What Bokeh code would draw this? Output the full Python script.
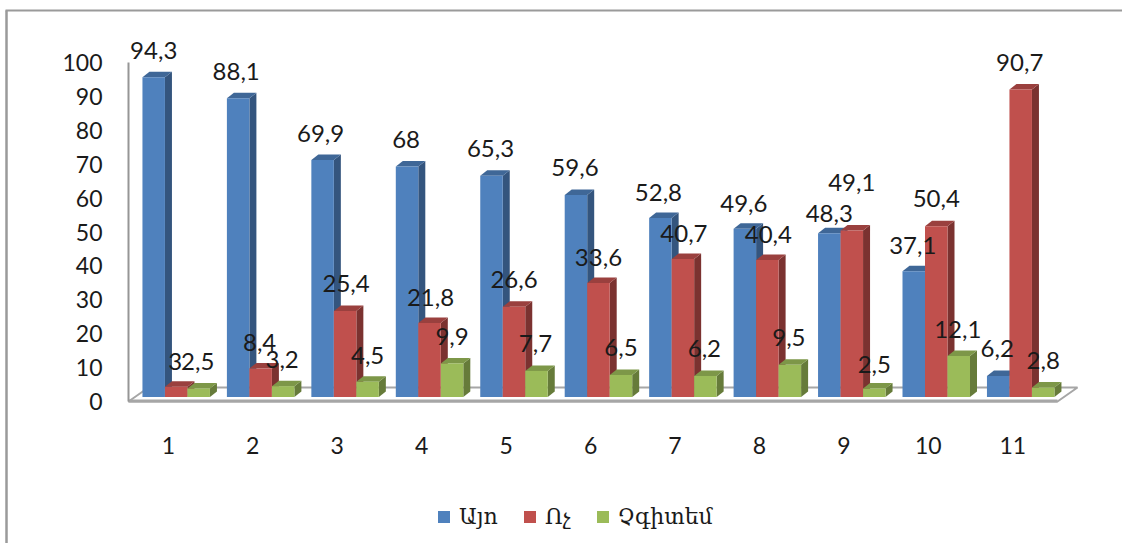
from bokeh.embed import file_html
from bokeh.resources import INLINE
from bokeh.plotting import figure
from bokeh.models import ColumnDataSource, Range1d, LinearAxis, FixedTicker, Legend, LegendItem
from bokeh.core.properties import value

# ---- data
groups = [1, 2, 3, 4, 5, 6, 7, 8, 9, 10, 11]
yes_label = "Այո"
no_label = "Ոչ"
unsure_label = "Չգիտեմ"
yes_values = [94.3, 88.1, 69.9, 68, 65.3, 59.6, 52.8, 49.6, 48.3, 37.1, 6.2]
no_values = [3, 8.4, 25.4, 21.8, 26.6, 33.6, 40.7, 40.4, 49.1, 50.4, 90.7]
unsure_values = [2.5, 3.2, 4.5, 9.9, 7.7, 6.5, 6.2, 9.5, 2.5, 12.1, 2.8]
y_ticks = [0, 10, 20, 30, 40, 50, 60, 70, 80, 90, 100]

# ---- hand-placed label nudges (pixels, relative to the bar's front top centre)
yes_dx = [0, -2, -2, -1, -1, -1, -2, -1, 0, -1, -1]
yes_dy = [27, 27, 27, 27, 27, 27, 26, 25, 20, 26, 27]
no_dx = [-1, -1, 1, 1, 0, 0, 1, 1, 0, 0, -1]
no_dy = [25, 26, 27, 26, 27, 26, 26, 26, 48, 28, 27]
unsure_dx = [-1, -1, 0, 0, -1, 0, -1, -1, 0, -1, 0]
unsure_dy = [27, 27, 26, 27, 27, 27, 27, 27, 24, 26, 27]

# ---- geometry (screen scale)
W, H = 1122, 543
PX_PER_GROUP = 84.45
PX_PER_UNIT = 3.39
X1_PX = 167.8     # pixel of group 1's tick label
Y0_PX = 401.0     # pixel of value 0 on the front plane
BAR_W = 22.5 / PX_PER_GROUP
SHIFT_X = 7.9 / PX_PER_GROUP   # bars stand a little behind the front plane
SHIFT_Y = 4.5 / PX_PER_UNIT
DEPTH_X = 7 / PX_PER_GROUP
DEPTH_Y = 5.5 / PX_PER_UNIT

def dx(px):
    return 1 + (px - X1_PX) / PX_PER_GROUP

def dy(px):
    return (Y0_PX - px) / PX_PER_UNIT

p = figure(width=W, height=H, output_backend="svg", toolbar_location=None,
           x_axis_type=None, y_axis_type=None,
           x_range=Range1d(dx(0), dx(W)), y_range=Range1d(dy(H), dy(0)),
           min_border=0, min_border_left=0, min_border_right=0, min_border_top=0, min_border_bottom=0,
           outline_line_color=None, background_fill_color="white", border_fill_color="white")
p.grid.visible = False

# outer frame: only the left and top edges are visible
p.line([dx(6), dx(6)], [dy(H), dy(10)], line_color="#9A9A9A", line_width=2.5)
p.line([dx(5), dx(W)], [dy(10), dy(10)], line_color="#9A9A9A", line_width=2)

# floor
p.patch([dx(128), dx(1057), dx(1077), dx(148)], [dy(401), dy(401), dy(387), dy(387)],
        fill_color="white", line_color="#A6A6A6", line_width=2)
p.line([dx(128), dx(1057)], [dy(400.5), dy(400.5)], line_color="#A6A6A6", line_width=3)

series = [
    (yes_label, yes_values, yes_dx, yes_dy, "#4F81BD", "#3F6797", "#34557E"),
    (no_label, no_values, no_dx, no_dy, "#C0504D", "#9A403E", "#7B3230"),
    (unsure_label, unsure_values, unsure_dx, unsure_dy, "#9BBB59", "#7D9748", "#667B3A"),
]

items = []
label_rows = dict(x=[], y=[], t=[], xo=[], yo=[])
for s, (name, vals, ldx, ldy, front, top, side) in enumerate(series):
    lefts = [g - 33.75 / PX_PER_GROUP + SHIFT_X + s * BAR_W for g in groups]
    rights = [l + BAR_W for l in lefts]
    base = [SHIFT_Y] * len(vals)
    tops = [v + SHIFT_Y for v in vals]
    # side face
    p.patches([[r, r + DEPTH_X, r + DEPTH_X, r] for r in rights],
              [[b, b + DEPTH_Y, t + DEPTH_Y, t] for b, t in zip(base, tops)],
              fill_color=side, line_color=None)
    # top face
    p.patches([[l, l + DEPTH_X, r + DEPTH_X, r] for l, r in zip(lefts, rights)],
              [[t, t + DEPTH_Y, t + DEPTH_Y, t] for t in tops],
              fill_color=top, line_color=None)
    # front face
    r = p.quad(left=lefts, right=rights, bottom=base, top=tops,
               fill_color=front, line_color=None)
    items.append(LegendItem(label=name, renderers=[r]))
    for i, v in enumerate(vals):
        label_rows["x"].append((lefts[i] + rights[i]) / 2)
        label_rows["y"].append(tops[i])
        label_rows["t"].append(str(v).replace(".", ","))
        label_rows["xo"].append(ldx[i])
        label_rows["yo"].append(-ldy[i])

# axes, placed inside the frame
yax = LinearAxis(fixed_location=dx(128), bounds=(0, 100),
                 ticker=FixedTicker(ticks=y_ticks),
                 axis_line_color="#969696", axis_line_width=2,
                 major_tick_line_color=None, minor_tick_line_color=None,
                 major_label_standoff=20,
                 major_label_text_font="Lato", major_label_text_font_size="23px",
                 major_label_text_color="#1a1a1a")
p.add_layout(yax, "left")
xax = LinearAxis(fixed_location=0, ticker=FixedTicker(ticks=groups),
                 axis_line_color=None,
                 major_tick_line_color=None, minor_tick_line_color=None,
                 major_label_standoff=29,
                 major_label_text_font="Lato", major_label_text_font_size="23px",
                 major_label_text_color="#1a1a1a")
p.add_layout(xax, "below")

# data labels
p.text("x", "y", text="t", x_offset="xo", y_offset="yo", source=ColumnDataSource(label_rows),
       text_align="center", text_baseline="middle", text_color="#1a1a1a",
       text_font=value("Lato"), text_font_size="24px")

legend = Legend(items=items, orientation="horizontal", location=(436, 543 - 529),
                glyph_width=15, glyph_height=15, label_standoff=8, spacing=24,
                padding=0, margin=0, border_line_color=None, background_fill_alpha=0,
                label_text_font="DejaVu Serif", label_text_font_size="22px",
                label_text_color="#1a1a1a")
p.add_layout(legend)

open("out.html", "w").write(file_html(p, INLINE))
